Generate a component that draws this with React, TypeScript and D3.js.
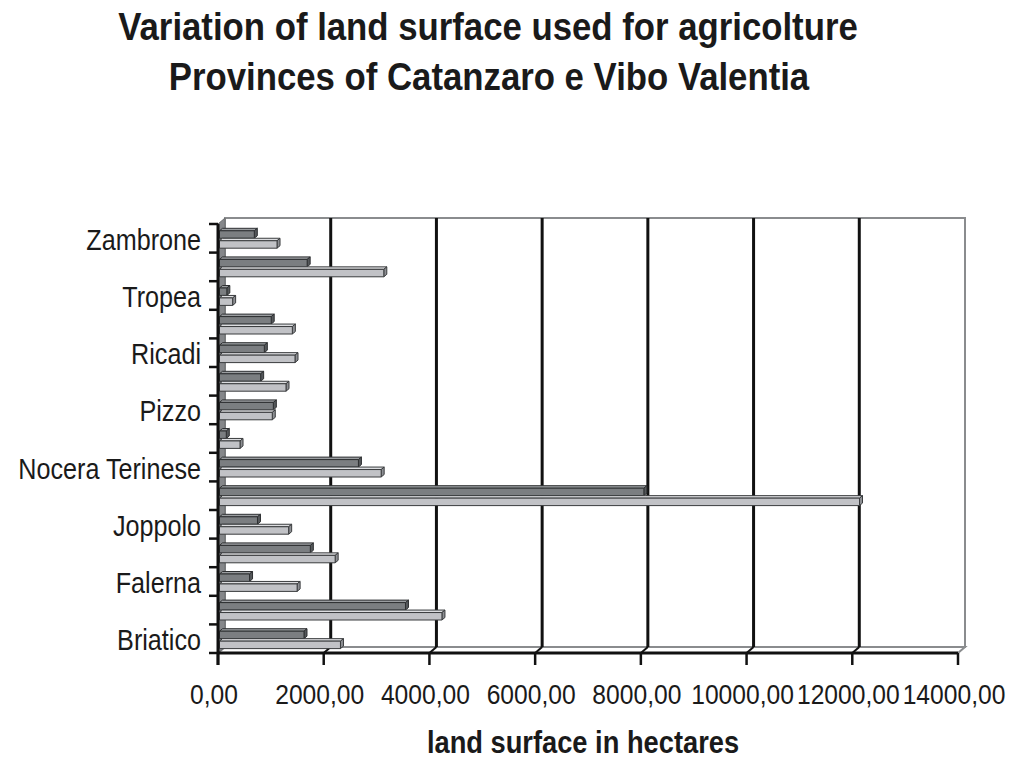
import React from "react";
import * as d3 from "d3";

// Municipalities, bottom to top
const municipalities = [
  "Briatico",
  "Curinga",
  "Falerna",
  "Gizzeria",
  "Joppolo",
  "Lamezia Terme",
  "Nocera Terinese",
  "Parghelia",
  "Pizzo",
  "Pizzoni",
  "Ricadi",
  "Spilinga",
  "Tropea",
  "Vibo Valentia",
  "Zambrone",
];

// Agricultural land surface (hectares), two survey series
const surfaceDark = [1570, 3490, 540, 1690, 690, 8000, 2600, 100, 990, 750, 820, 950, 110, 1630, 630];
const surfaceLight = [2260, 4180, 1440, 2160, 1280, 12080, 3030, 360, 970, 1230, 1400, 1350, 220, 3080, 1060];

const xTicks = [0, 2000, 4000, 6000, 8000, 10000, 12000, 14000];

const W = 1016;
const H = 765;
const FONT = "'Liberation Sans', Arial, Helvetica, sans-serif";
// narrow text look
const SX = 0.88;

// front plane of the plot box
const left = 218;
const right = 958;
const top = 224;
const bottom = 653;
// depth of the 3D box
const DX = 7;
const DY = 6;
// depth of a single bar
const BX = 3;
const BY = 2.5;

const fmt = (v: number) => d3.format(".2f")(v).replace(".", ",");

type LabelProps = {
  x: number;
  y: number;
  size: number;
  anchor?: "start" | "middle" | "end";
  bold?: boolean;
  children: React.ReactNode;
};

function Label({ x, y, size, anchor = "middle", bold = false, children }: LabelProps) {
  return (
    <text
      transform={`translate(${x},${y}) scale(${SX},1)`}
      textAnchor={anchor}
      fontSize={size}
      fontWeight={bold ? "bold" : "normal"}
      fill="#1a1a1a"
    >
      {children}
    </text>
  );
}

export default function App() {
  const x = d3.scaleLinear().domain([0, 14000]).range([left, right]);
  const y = d3.scaleBand<string>().domain(municipalities).range([bottom, top]).padding(0);
  const sub = d3
    .scaleBand<string>()
    .domain(["dark", "light"])
    .range([4.3, 24.2])
    .padding(0);

  const series = [
    { key: "dark", values: surfaceDark, front: "#7b7e81", topFace: "#9a9da0", side: "#55585b", stroke: "#2e3032" },
    { key: "light", values: surfaceLight, front: "#c1c2c6", topFace: "#dcdde0", side: "#8d8f93", stroke: "#3a3c3e" },
  ];

  const bars: React.ReactNode[] = [];
  // draw from the back (top) to the front (bottom) so overlaps look right
  const order = municipalities.map((_, i) => i).reverse();
  order.forEach((i) => {
    const band = y(municipalities[i]) as number;
    series.forEach((s) => {
      const v = s.values[i];
      const slot = band + (sub(s.key) as number);
      const x0 = x(0) + BX * 0.5;
      const x1 = x(v) + BX;
      const yTop = slot + BY; // top of front face
      const h = sub.bandwidth() - BY;
      bars.push(
        <g key={`${s.key}-${i}`} strokeWidth={1} stroke={s.stroke} strokeLinejoin="round">
          <polygon
            points={`${x0},${yTop} ${x1},${yTop} ${x1 + BX},${yTop - BY} ${x0 + BX},${yTop - BY}`}
            fill={s.topFace}
          />
          <polygon
            points={`${x1},${yTop} ${x1 + BX},${yTop - BY} ${x1 + BX},${yTop + h - BY} ${x1},${yTop + h}`}
            fill={s.side}
          />
          <rect x={x0} y={yTop} width={Math.max(0, x1 - x0)} height={h} fill={s.front} />
        </g>
      );
    });
  });

  const catTicks = d3.range(municipalities.length + 1).map((k) => bottom - k * y.step());

  return (
    <div style={{ position: "absolute", left: 0, top: 0 }}>
      <svg width={W} height={H} style={{ display: "block", background: "#fff" }} fontFamily={FONT}>
        <Label x={488} y={40} size={39.5} bold>
          Variation of land surface used for agricolture
        </Label>
        <Label x={489} y={90} size={39.5} bold>
          Provinces of Catanzaro e Vibo Valentia
        </Label>

        {/* back wall */}
        <rect
          x={left + DX}
          y={top - DY}
          width={right - left}
          height={bottom - top}
          fill="#fff"
          stroke="#8a8c8e"
          strokeWidth={2}
        />
        {/* floor */}
        <polygon
          points={`${left},${bottom} ${right},${bottom} ${right + DX},${bottom - DY} ${left + DX},${bottom - DY}`}
          fill="#fff"
          stroke="#8a8c8e"
          strokeWidth={2}
        />
        {/* side wall */}
        <polygon
          points={`${left},${top} ${left + DX},${top - DY} ${left + DX},${bottom - DY} ${left},${bottom}`}
          fill="#85878a"
          stroke="#6a6c6e"
          strokeWidth={1}
        />

        {/* gridlines on the back wall and across the floor */}
        {xTicks.slice(1, -1).map((t) => (
          <g key={`g${t}`} stroke="#111" strokeWidth={3}>
            <line x1={x(t) + DX} x2={x(t) + DX} y1={top - DY} y2={bottom - DY} />
            <line x1={x(t)} x2={x(t) + DX} y1={bottom} y2={bottom - DY} strokeWidth={2} />
          </g>
        ))}

        {bars}

        {/* value axis */}
        <line x1={left} x2={right} y1={bottom} y2={bottom} stroke="#111" strokeWidth={3} />
        {xTicks.map((t) => (
          <g key={`t${t}`}>
            <line x1={x(t)} x2={x(t)} y1={bottom} y2={bottom + 12} stroke="#111" strokeWidth={2.5} />
            <Label x={x(t) - 4} y={704} size={28}>
              {fmt(t)}
            </Label>
          </g>
        ))}
        <Label x={583} y={753} size={31} bold>
          land surface in hectares
        </Label>

        {/* category axis */}
        <line x1={left} x2={left} y1={top} y2={bottom + 12} stroke="#111" strokeWidth={3} />
        {catTicks.map((ty, k) => (
          <line key={`c${k}`} x1={left - 9} x2={left} y1={ty} y2={ty} stroke="#111" strokeWidth={2.5} />
        ))}
        {municipalities.map((m, i) =>
          i % 2 === 0 ? (
            <Label key={m} x={201} y={(y(m) as number) + y.bandwidth() / 2 + 11.5} size={28.6} anchor="end">
              {m}
            </Label>
          ) : null
        )}
      </svg>
    </div>
  );
}
